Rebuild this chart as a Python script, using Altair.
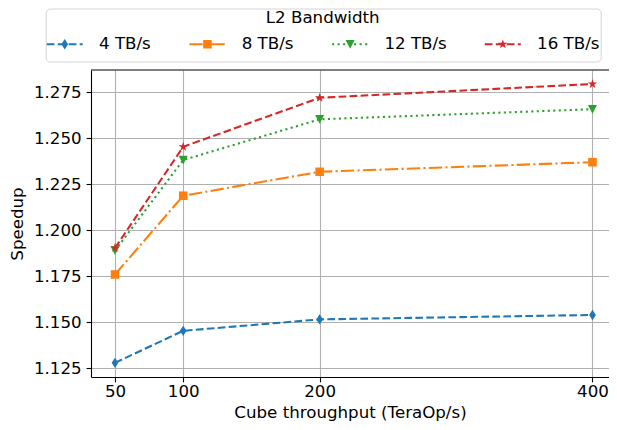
import math
import altair as alt
import pandas as pd

# ---------------- data ----------------
x_vals = [50, 100, 200, 400]
series = ["4 TB/s", "8 TB/s", "12 TB/s", "16 TB/s"]
s4 = [1.128, 1.1454, 1.1516, 1.154]
s8 = [1.176, 1.2188, 1.2318, 1.237]
s12 = [1.189, 1.2382, 1.2603, 1.2658]
s16 = [1.1904, 1.2454, 1.2720, 1.2795]
colors = ["#1f77b4", "#ff7f0e", "#2ca02c", "#d62728"]
x_ticks = [50, 100, 200, 400]
y_ticks = [1.125, 1.150, 1.175, 1.200, 1.225, 1.250, 1.275]

rows = []
for name, vals in zip(series, [s4, s8, s12, s16]):
    for xv, yv in zip(x_vals, vals):
        rows.append({"series": name, "x": xv, "y": yv})
df = pd.DataFrame(rows)

# ---------------- styles ----------------
FONT = "DejaVu Sans"
FS = 16.67
LW = 2.08
dashes = [[7.7, 3.3], [13.3, 3.3, 2.1, 3.3], [2.1, 3.4], [7.7, 3.3]]

def star_pts(r_out, r_in=0.382):
    pts = []
    for k in range(5):
        a = math.radians(-90 + 72 * k)
        pts.append((r_out * math.cos(a), r_out * math.sin(a)))
        b = math.radians(-90 + 36 + 72 * k)
        pts.append((r_out * r_in * math.cos(b), r_out * r_in * math.sin(b)))
    return pts

# marker outlines in unit coordinates (1 unit = 4.5 px at size 81)
marker_pts = [
    [(0, -1.15), (0.75, 0), (0, 1.15), (-0.75, 0)],                 # thin diamond
    [(-0.95, -0.95), (0.95, -0.95), (0.95, 0.95), (-0.95, 0.95)],   # square
    [(-1, -0.95), (1, -0.95), (0, 1.0)],                             # triangle down
    star_pts(1.1),                                                   # star
]

def poly(pts, s=1.0):
    return "M" + "L".join(f"{x*s:.4f},{y*s:.4f}" for x, y in pts) + "Z"

point_paths = [poly(p) for p in marker_pts]

# legend handle: dashed line (as filled pieces) + marker; 1 unit = 18 px
R = 18.0
def handle_path(pattern, pts):
    parts = []
    pos, i = -18.0, 0
    th = (LW / 2) / R
    while pos < 18.0:
        L = pattern[i % len(pattern)]
        if i % 2 == 0:
            a, b = pos / R, min(pos + L, 18.0) / R
            parts.append(f"M{a:.4f},{-th:.4f}L{b:.4f},{-th:.4f}L{b:.4f},{th:.4f}L{a:.4f},{th:.4f}Z")
        pos += L
        i += 1
    parts.append(poly(pts, 4.5 / R))
    parts.append("M0,0.878")  # invisible point: keeps the legend frame's lower margin
    return "".join(parts)

legend_paths = [handle_path(d, p) for d, p in zip(dashes, marker_pts)]

W, H = 518, 307

x_enc = alt.X(
    "x:Q",
    scale=alt.Scale(domain=[32.41, 412.1], nice=False, zero=False),
    axis=alt.Axis(values=x_ticks, format="d", title="Cube throughput (TeraOp/s)",
                  labelFlush=False, labelPadding=2, titlePadding=4),
)
y_enc = alt.Y(
    "y:Q",
    scale=alt.Scale(domain=[1.1203, 1.2871], nice=False, zero=False),
    axis=alt.Axis(values=y_ticks, format=".3f", title="Speedup",
                  labelFlush=False, labelPadding=5, titlePadding=7),
)

def cscale():
    return alt.Scale(domain=series, range=colors)

base = alt.Chart(df)

lines = base.mark_line(strokeWidth=LW).encode(
    x=x_enc,
    y=y_enc,
    color=alt.Color("series:N", scale=cscale(), legend=None),
    strokeDash=alt.StrokeDash("series:N", scale=alt.Scale(domain=series, range=dashes), legend=None),
)

points = base.mark_point(filled=True, size=81, opacity=1, strokeWidth=0).encode(
    x=x_enc,
    y=y_enc,
    color=alt.Color("series:N", scale=cscale(), legend=None),
    shape=alt.Shape("series:N", scale=alt.Scale(domain=series, range=point_paths), legend=None),
)

leg = alt.Legend(
    title="L2 Bandwidth",
    orient="none",
    legendX=-45.3,
    legendY=-61.5,
    direction="horizontal",
    columns=4,
    titleAnchor="middle",
    titleFont=FONT,
    titleFontSize=FS,
    titleFontWeight="normal",
    titleColor="black",
    titlePadding=0,
    labelFont=FONT,
    labelFontSize=FS,
    labelColor="black",
    labelOffset=16.3,
    columnPadding=37.7,
    symbolSize=1296,
    symbolStrokeWidth=0,
    symbolOpacity=1,
    padding=1,
    strokeColor="#d4d4d4",
    fillColor="white",
    cornerRadius=4,
)

# legend-only layer: draws no marks, provides the combined line+marker legend
legend_layer = base.transform_filter("false").mark_point(filled=True, opacity=1, strokeWidth=0).encode(
    color=alt.Color("series:N", scale=cscale(), legend=leg),
    shape=alt.Shape("series:N", scale=alt.Scale(domain=series, range=legend_paths), legend=leg),
)

top = alt.Chart(pd.DataFrame({"a": [0]})).mark_rule(color="black", strokeWidth=1.1).encode(
    x=alt.value(0), x2=alt.value(W), y=alt.value(0)
)

chart = (
    alt.layer(lines, points, legend_layer, top)
    .resolve_scale(color="independent", shape="independent")
    .properties(
        width=W,
        height=H,
        padding={"left": 83, "top": 62, "right": 0, "bottom": 45},
        autosize=alt.AutoSizeParams(type="none"),
    )
    .configure_view(stroke=None)
    .configure_axis(
        labelFont=FONT,
        labelFontSize=FS,
        labelColor="black",
        titleFont=FONT,
        titleFontSize=FS,
        titleFontWeight="normal",
        titleColor="black",
        domainColor="black",
        domainWidth=1.1,
        tickColor="black",
        tickWidth=1.1,
        tickSize=4.9,
        gridColor="#b0b0b0",
        gridWidth=1.1,
    )
)

chart.save("out.html", embed_options={"renderer": "svg", "actions": False})
